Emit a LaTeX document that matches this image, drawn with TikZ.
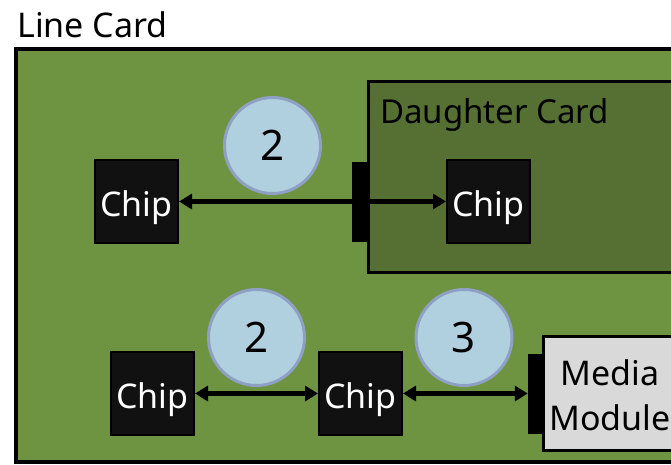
\documentclass[tikz,border=0pt]{standalone}
\usepackage{fontspec}
\setmainfont{Noto Sans}
\usetikzlibrary{arrows.meta}
\definecolor{boardgreen}{RGB}{110,148,66}
\definecolor{dcgreen}{RGB}{86,111,51}
\definecolor{circfill}{RGB}{176,208,224}
\definecolor{circdraw}{RGB}{142,160,196}
\definecolor{chipfill}{RGB}{17,17,17}
\definecolor{mmfill}{RGB}{217,217,217}
\begin{document}
\begin{tikzpicture}[x=1pt,y=-1pt,
  chipbox/.style={draw=black,line width=2pt,fill=chipfill,minimum width=83pt,minimum height=83pt,inner sep=0pt,text=white,text height=29pt,text depth=0pt,font=\fontsize{34}{36}\selectfont},
  bar/.style={fill=black,inner sep=0pt},
  badge/.style={circle,draw=circdraw,line width=3pt,fill=circfill,minimum size=96pt,inner sep=0pt,font=\fontsize{42}{44}\selectfont},
  link/.style={line width=4.2pt,{Triangle[length=13pt,width=15pt]}-{Triangle[length=13pt,width=15pt]}},
  board/.style={draw=black,line width=3.5pt},
  txt/.style={anchor=base,inner sep=0pt,font=\fontsize{34}{36}\selectfont}
]
\useasboundingbox (0,0) rectangle (671,464);
\fill[white] (0,0) rectangle (671,464);
% boards
\draw[board,fill=boardgreen] (16,49) rectangle (690,462);
\draw[board,line width=3pt,fill=dcgreen] (368,81) rectangle (690,272);
% labels
\node[txt,anchor=base west] (lc) at (17,37) {Line Card};
\node[txt,anchor=base west,font=\fontsize{33}{36}\selectfont] (dc) at (380,123) {Daughter Card};
% top row
\node[chipbox] (c1) at (136.5,201.5) {Chip};
\node[chipbox] (c2) at (488.5,201.5) {Chip};
\node[bar,minimum width=16pt,minimum height=80pt] (b1) at (360,201.5) {};
\draw[link] (c1.east) -- (c2.west);
\node[badge] (n1) at (272.5,145.5) {2};
% bottom row
\node[chipbox] (c3) at (152.5,393.5) {Chip};
\node[chipbox] (c4) at (360.5,393.5) {Chip};
\node[draw=black,line width=3pt,fill=mmfill,minimum width=134pt,minimum height=114pt,inner sep=0pt] (mm) at (610,393.5) {};
\node[txt] (mm1) at (610,385) {Media};
\node[txt] (mm2) at (610,430) {Module};
\node[bar,minimum width=15pt,minimum height=80pt] (b2) at (535.5,393.5) {};
\draw[link] (c3.east) -- (c4.west);
\draw[link] (c4.east) -- (b2.west);
\node[badge] (n2) at (256.5,337.5) {2};
\node[badge] (n3) at (464,337.5) {3};
\end{tikzpicture}
\end{document}
